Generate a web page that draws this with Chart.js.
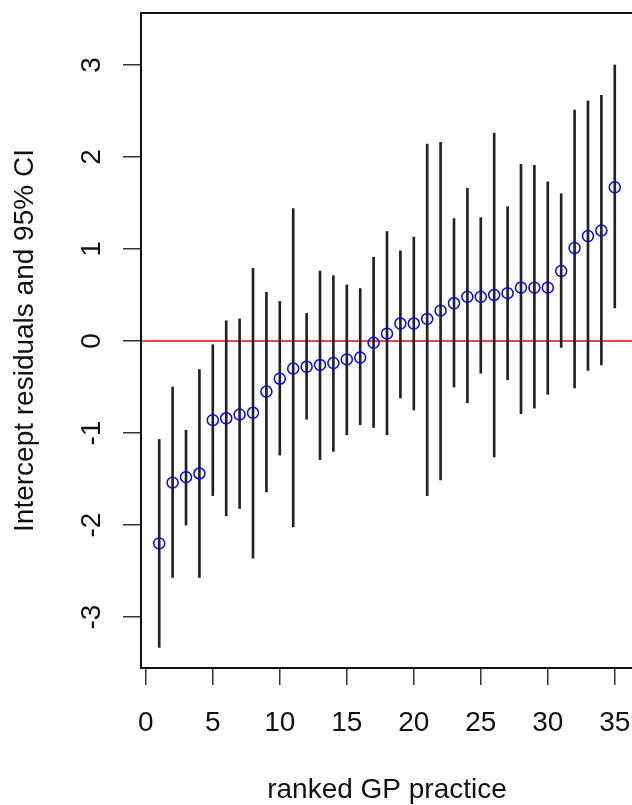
<!DOCTYPE html>
<html lang="en">
<head>
  <meta charset="UTF-8">
  <title>Intercept residuals</title>
  <script src="https://cdn.jsdelivr.net/npm/chart.js"></script>
  <style>
    html, body { margin: 0; padding: 0; background: #fff; overflow: hidden; }
    #wrap { width: 640px; height: 805px; }
  </style>
</head>
<body>
  <div id="wrap"><canvas id="chart" width="640" height="805"></canvas></div>

  <script>
    // ranked practices and their residuals with 95% CI
    const practiceRank = [1, 2, 3, 4, 5, 6, 7, 8, 9, 10, 11, 12, 13, 14, 15, 16, 17, 18,
                          19, 20, 21, 22, 23, 24, 25, 26, 27, 28, 29, 30, 31, 32, 33, 34, 35];
    const residual = [-2.20, -1.54, -1.48, -1.44, -0.86, -0.84, -0.80, -0.78, -0.55, -0.41,
                      -0.30, -0.28, -0.26, -0.24, -0.20, -0.18, -0.02, 0.08, 0.19, 0.19,
                      0.24, 0.33, 0.41, 0.48, 0.48, 0.50, 0.52, 0.58, 0.58, 0.58,
                      0.76, 1.01, 1.14, 1.20, 1.67];
    const ciLower = [-3.33, -2.57, -2.00, -2.57, -1.68, -1.90, -1.82, -2.36, -1.64, -1.24,
                     -2.02, -0.85, -1.29, -1.20, -1.02, -0.91, -0.94, -1.02, -0.62, -0.75,
                     -1.68, -1.51, -0.50, -0.67, -0.35, -1.26, -0.42, -0.79, -0.73, -0.58,
                     -0.07, -0.51, -0.32, -0.26, 0.36];
    const ciUpper = [-1.07, -0.50, -0.97, -0.31, -0.04, 0.22, 0.24, 0.79, 0.53, 0.43,
                     1.44, 0.30, 0.76, 0.71, 0.61, 0.57, 0.91, 1.19, 0.98, 1.13,
                     2.14, 2.16, 1.33, 1.66, 1.34, 2.26, 1.46, 1.92, 1.91, 1.73,
                     1.60, 2.51, 2.61, 2.67, 3.00];

    const xTicks = [0, 5, 10, 15, 20, 25, 30, 35];
    const yTicks = [-3, -2, -1, 0, 1, 2, 3];
    const xTitle = 'ranked GP practice';
    const yTitle = 'Intercept residuals and 95% CI';

    const FONT = '28px "Liberation Sans", Arial, sans-serif';
    const TEXT = '#111';

    // box, red reference line at 0 and the axis text (R base-graphics look)
    const rStyle = {
      id: 'rStyle',
      beforeDatasetsDraw(chart) {
        const { ctx, chartArea: a } = chart;
        const y0 = chart.scales.y.getPixelForValue(0);
        ctx.save();
        ctx.strokeStyle = '#ff0000';
        ctx.lineWidth = 1.5;
        ctx.beginPath();
        ctx.moveTo(a.left, y0);
        ctx.lineTo(a.right, y0);
        ctx.stroke();
        ctx.restore();
      },
      afterDraw(chart) {
        const { ctx, chartArea: a, scales } = chart;
        ctx.save();
        ctx.strokeStyle = '#111';
        ctx.lineWidth = 2;
        ctx.strokeRect(a.left, a.top, a.right - a.left, a.bottom - a.top);

        ctx.fillStyle = TEXT;
        ctx.font = FONT;
        ctx.textAlign = 'center';
        ctx.textBaseline = 'alphabetic';
        xTicks.forEach(v => {
          ctx.fillText(String(v), scales.x.getPixelForValue(v), 731);
        });
        ctx.fillText(xTitle, (a.left + a.right) / 2, 798);

        yTicks.forEach(v => {
          ctx.save();
          ctx.translate(100, scales.y.getPixelForValue(v));
          ctx.rotate(-Math.PI / 2);
          ctx.fillText(String(v), 0, 0);
          ctx.restore();
        });
        ctx.save();
        ctx.translate(33, (a.top + a.bottom) / 2);
        ctx.rotate(-Math.PI / 2);
        ctx.fillText(yTitle, 0, 0);
        ctx.restore();
        ctx.restore();
      }
    };

    new Chart(document.getElementById('chart'), {
      data: {
        datasets: [
          {
            type: 'bar',
            label: '95% CI',
            data: practiceRank.map((r, i) => ({ x: r, y: [ciLower[i], ciUpper[i]] })),
            backgroundColor: '#222',
            borderWidth: 0,
            barThickness: 2,
            order: 2
          },
          {
            type: 'scatter',
            label: 'residual',
            data: practiceRank.map((r, i) => ({ x: r, y: residual[i] })),
            pointStyle: 'circle',
            pointRadius: 5.5,
            pointBorderColor: '#0000ff',
            pointBackgroundColor: 'rgba(0,0,0,0)',
            pointBorderWidth: 1.5,
            order: 1
          }
        ]
      },
      options: {
        responsive: false,
        animation: false,
        layout: { padding: { left: 0, top: 13, right: 2, bottom: 0 } },
        plugins: { legend: { display: false }, tooltip: { enabled: false } },
        scales: {
          x: {
            type: 'linear',
            min: -0.36,
            max: 36.36,
            offset: false,
            afterBuildTicks(s) { s.ticks = xTicks.map(v => ({ value: v })); },
            afterFit(s) { s.height = 137; },
            ticks: { display: false },
            border: { display: false },
            grid: { offset: false, drawOnChartArea: false, drawTicks: true, tickLength: 17, color: '#333', lineWidth: 1.5 }
          },
          y: {
            type: 'linear',
            min: -3.554,
            max: 3.565,
            afterBuildTicks(s) { s.ticks = yTicks.map(v => ({ value: v })); },
            afterFit(s) { s.width = 141; },
            ticks: { display: false },
            border: { display: false },
            grid: { drawOnChartArea: false, drawTicks: true, tickLength: 18, color: '#333', lineWidth: 1.5 }
          }
        }
      },
      plugins: [rStyle]
    });
  </script>
</body>
</html>
